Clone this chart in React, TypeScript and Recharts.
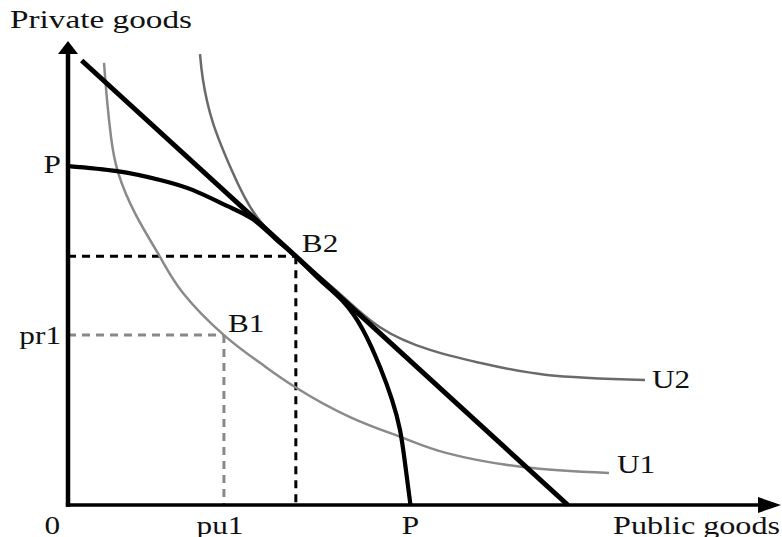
import React from 'react';
import { ComposedChart, Line, XAxis, YAxis, ReferenceLine, ReferenceDot } from 'recharts';

// values (x: public goods, y: private goods, both 0..100)
const budgetLine = [
  { x: 1.92, y: 96.0 },
  { x: 70.2, y: 0 },
];

const ppf = [
  { x: 0, y: 73.2 },
  { x: 6.88, y: 72.1 },
  { x: 12.92, y: 70.2 },
  { x: 17.56, y: 68.0 },
  { x: 22.33, y: 64.6 },
  { x: 25.98, y: 61.7 },
  { x: 29.07, y: 57.6 },
  { x: 32.0, y: 53.7 },
  { x: 35.39, y: 48.6 },
  { x: 38.62, y: 44.0 },
  { x: 41.43, y: 37.8 },
  { x: 43.82, y: 29.8 },
  { x: 45.51, y: 22.7 },
  { x: 46.63, y: 16.2 },
  { x: 47.33, y: 9.1 },
  { x: 48.1, y: 0 },
];

const u1 = [
  { x: 5.06, y: 95.5 },
  { x: 5.48, y: 87.5 },
  { x: 6.04, y: 79.5 },
  { x: 7.02, y: 71.9 },
  { x: 9.55, y: 62.6 },
  { x: 12.92, y: 53.6 },
  { x: 16.15, y: 45.8 },
  { x: 21.9, y: 36.7 },
  { x: 26.97, y: 30.7 },
  { x: 31.88, y: 25.5 },
  { x: 39.61, y: 19.0 },
  { x: 47.05, y: 14.5 },
  { x: 53.23, y: 11.2 },
  { x: 63.9, y: 8.2 },
  { x: 75.98, y: 6.9 },
];

const u2 = [
  { x: 18.54, y: 97.4 },
  { x: 18.96, y: 91.8 },
  { x: 20.37, y: 82.5 },
  { x: 23.17, y: 71.7 },
  { x: 26.54, y: 62.2 },
  { x: 32.0, y: 53.7 },
  { x: 37.78, y: 46.2 },
  { x: 43.82, y: 38.4 },
  { x: 50.84, y: 33.5 },
  { x: 57.87, y: 30.7 },
  { x: 67.28, y: 28.1 },
  { x: 81.04, y: 27.0 },
];

const b1 = { x: 21.9, y: 36.7 };
const b2 = { x: 32.0, y: 53.7 };
const xTicks = [0, b1.x, 48.1];
const xTickLabels = ['0', 'pu1', 'P'];
const yTicks = [b1.y, 73.2];
const yTickLabels = ['pr1', 'P'];

const FONT = '"Liberation Serif", "Times New Roman", serif';
const INK = '#111';

const XTick = (props: any) => {
  const { x, y, payload } = props;
  const i = xTicks.indexOf(payload.value);
  const anchor = i === 0 ? 'end' : 'middle';
  const dx = i === 0 ? -8 : i === 1 ? -4 : 0;
  return (
    <text
      transform={`translate(${x + dx},${y + 29}) scale(1.25,1)`}
      textAnchor={anchor}
      fontFamily={FONT}
      fontSize={25}
      fill={INK}
    >
      {xTickLabels[i]}
    </text>
  );
};

const YTick = (props: any) => {
  const { x, y, payload } = props;
  const i = yTicks.indexOf(payload.value);
  const dy = i === 0 ? 9 : 7;
  return (
    <text
      transform={`translate(${x - 7},${y + dy}) scale(1.25,1)`}
      textAnchor="end"
      fontFamily={FONT}
      fontSize={25}
      fill={INK}
    >
      {yTickLabels[i]}
    </text>
  );
};

const pointLabel = (text: string, dx: number, dy: number) => (props: any) => {
  const { viewBox } = props;
  return (
    <text
      transform={`translate(${viewBox.x + dx},${viewBox.y + dy}) scale(1.25,1)`}
      fontFamily={FONT}
      fontSize={25}
      fill={INK}
    >
      {text}
    </text>
  );
};

const ArrowRight = (props: any) => {
  const { cx, cy } = props;
  return <path d={`M${cx + 1},${cy} L${cx - 22},${cy - 8} L${cx - 22},${cy + 8} Z`} fill="#000" />;
};

const ArrowUp = (props: any) => {
  const { cx, cy } = props;
  return <path d={`M${cx},${cy - 1} L${cx - 10},${cy + 12} L${cx + 10},${cy + 12} Z`} fill="#000" />;
};

export default function App() {
  return (
    <div style={{ position: 'absolute', left: 0, top: 0, width: 782, height: 537, background: '#fff' }}>
      <ComposedChart width={782} height={537} margin={{ top: 42, right: 2, left: 0, bottom: 0 }}>
        <XAxis
          type="number"
          dataKey="x"
          domain={[0, 100]}
          ticks={xTicks}
          interval={0}
          axisLine={false}
          tickLine={false}
          tickSize={0}
          tickMargin={0}
          height={32}
          tick={<XTick />}
          label={{
            content: (p: any) => (
              <text
                x={p.viewBox.x + p.viewBox.width}
                y={p.viewBox.y + 29}
                textAnchor="end"
                textLength={167}
                lengthAdjust="spacingAndGlyphs"
                fontFamily={FONT}
                fontSize={25}
                fill={INK}
              >
                Public goods
              </text>
            ),
          }}
        />
        <YAxis
          type="number"
          dataKey="y"
          domain={[0, 100]}
          ticks={yTicks}
          interval={0}
          axisLine={false}
          tickLine={false}
          tickSize={0}
          tickMargin={0}
          width={68}
          tick={<YTick />}
          label={{
            content: (p: any) => (
              <text
                x={10}
                y={p.viewBox.y - 14}
                textLength={182}
                lengthAdjust="spacingAndGlyphs"
                fontFamily={FONT}
                fontSize={25}
                fill={INK}
              >
                Private goods
              </text>
            ),
          }}
        />

        {/* projections of B1 and B2 */}
        <ReferenceLine
          segment={[{ x: 0, y: b1.y }, { x: b1.x, y: b1.y }]}
          stroke="#888"
          strokeWidth={3}
          strokeDasharray="8 6"
        />
        <ReferenceLine
          segment={[{ x: b1.x, y: b1.y }, { x: b1.x, y: 0 }]}
          stroke="#888"
          strokeWidth={3}
          strokeDasharray="8 6"
        />
        <ReferenceLine
          segment={[{ x: 0, y: b2.y }, { x: b2.x, y: b2.y }]}
          stroke="#000"
          strokeWidth={3}
          strokeDasharray="8 6"
        />
        <ReferenceLine
          segment={[{ x: b2.x, y: b2.y }, { x: b2.x, y: 0 }]}
          stroke="#000"
          strokeWidth={3}
          strokeDasharray="8 6"
        />

        <Line data={u1} dataKey="y" type="natural" stroke="#8a8a8a" strokeWidth={2.5} dot={false} activeDot={false} isAnimationActive={false} />
        <Line data={u2} dataKey="y" type="natural" stroke="#6a6a6a" strokeWidth={2.5} dot={false} activeDot={false} isAnimationActive={false} />
        <Line data={ppf} dataKey="y" type="natural" stroke="#000" strokeWidth={4.2} dot={false} activeDot={false} isAnimationActive={false} />
        <Line data={budgetLine} dataKey="y" type="linear" stroke="#000" strokeWidth={5} dot={false} activeDot={false} isAnimationActive={false} />

        {/* axes with arrowheads */}
        <ReferenceLine segment={[{ x: -0.3, y: 0 }, { x: 97.5, y: 0 }]} stroke="#000" strokeWidth={3.5} ifOverflow="visible" />
        <ReferenceLine segment={[{ x: 0, y: -0.4 }, { x: 0, y: 98 }]} stroke="#000" strokeWidth={4.5} ifOverflow="visible" />
        <ReferenceDot x={100} y={0} r={0} shape={<ArrowRight />} ifOverflow="visible" />
        <ReferenceDot x={0} y={100} r={0} shape={<ArrowUp />} ifOverflow="visible" />

        {/* point and curve labels */}
        <ReferenceDot x={b1.x} y={b1.y} r={0} fill="none" stroke="none" label={{ content: pointLabel('B1', 4, -3) }} />
        <ReferenceDot x={b2.x} y={b2.y} r={0} fill="none" stroke="none" label={{ content: pointLabel('B2', 6, -4) }} />
        <ReferenceDot x={u1[u1.length - 1].x} y={u1[u1.length - 1].y} r={0} fill="none" stroke="none" label={{ content: pointLabel('U1', 8, 0) }} />
        <ReferenceDot x={u2[u2.length - 1].x} y={u2[u2.length - 1].y} r={0} fill="none" stroke="none" label={{ content: pointLabel('U2', 7, 8) }} />
      </ComposedChart>
    </div>
  );
}
